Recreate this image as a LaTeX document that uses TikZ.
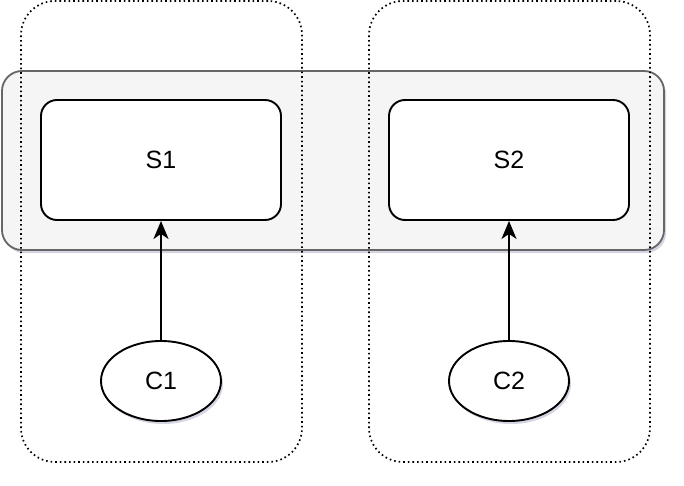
\documentclass[tikz,border=0pt]{standalone}
\usepackage{fontspec}
\setmainfont{Liberation Sans}
\usetikzlibrary{positioning,arrows.meta,shapes.geometric,shadows}
\definecolor{bandgray}{HTML}{F5F5F5}
\definecolor{bandline}{HTML}{666666}
\definecolor{shadowblue}{HTML}{3A3F7A}

\begin{document}
\begin{tikzpicture}[x=1pt, y=-1pt,
        sh/.style={drop shadow={shadow xshift=2pt, shadow yshift=-3pt, opacity=0.22, fill=shadowblue}},
        grp/.style={draw, rounded corners=34pt, line width=1.7pt, dash pattern=on 1.6pt off 3pt, minimum width=281pt, minimum height=461pt, inner sep=0pt},
        band/.style={draw=bandline, fill=bandgray, rounded corners=20pt, line width=1.8pt, minimum width=662pt, minimum height=179pt, inner sep=0pt, sh},
        srv/.style={draw, fill=white, rounded corners=16pt, line width=1.9pt, minimum width=240pt, minimum height=120pt, font=\fontsize{25}{30}\selectfont, inner sep=0pt},
        cli/.style={draw, fill=white, ellipse, line width=1.9pt, minimum width=120pt, minimum height=80pt, font=\fontsize{25}{30}\selectfont, inner sep=0pt, sh},
        arr/.style={-{Stealth[length=18pt, width=15pt, inset=5pt]}, line width=1.9pt}]
      \useasboundingbox (0,0) rectangle (684,486);
      \node[band] (g) at (333,160.5) {};
      \node[grp] (l) at (161.5,231.5) {};
      \node[grp] (r) at (509.5,231.5) {};
      \node[srv] (s1) at (161,160) {S1};
      \node[srv] (s2) at (509,160) {S2};
      \node[cli] (c1) at (161,381) {C1};
      \node[cli] (c2) at (509,381) {C2};
      \draw[arr] (c1) -- (s1); \draw[arr] (c2) -- (s2);
      \end{tikzpicture}
\end{document}
